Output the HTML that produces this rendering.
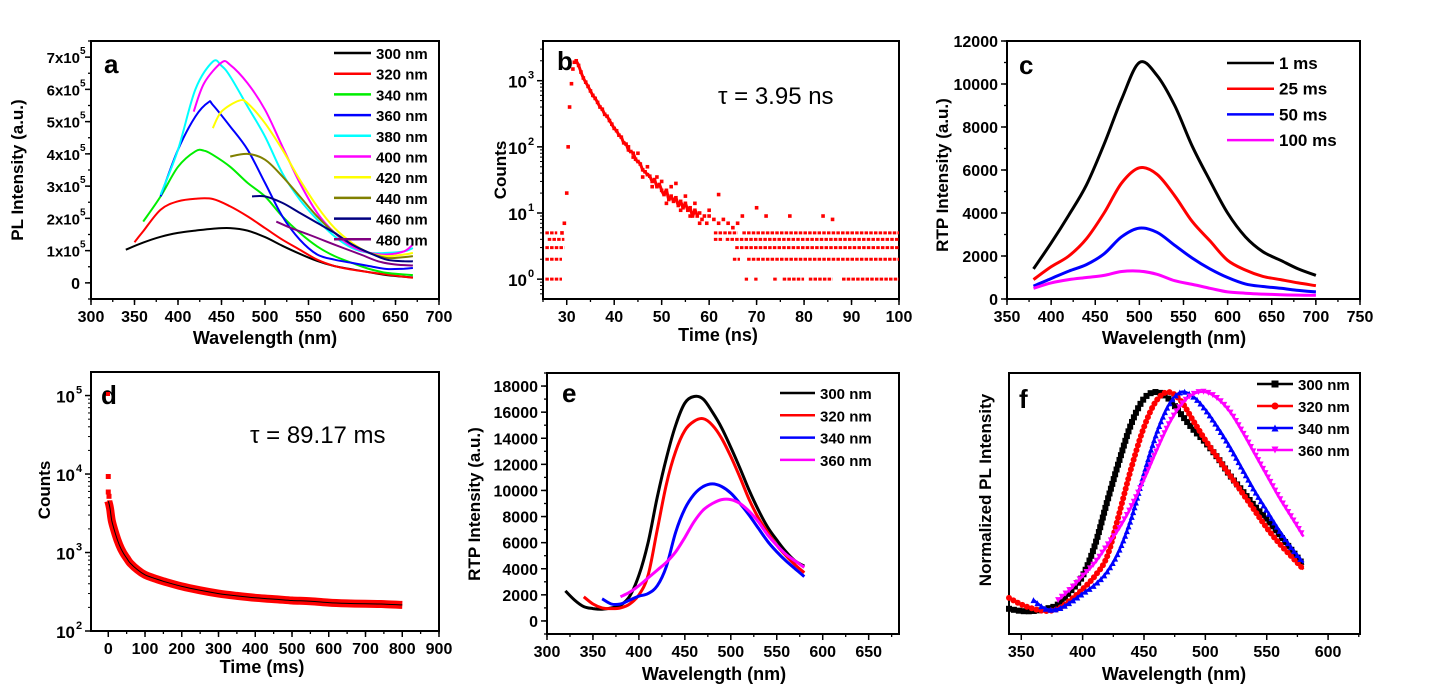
<!DOCTYPE html>
<html><head><meta charset="utf-8"><style>
html,body{margin:0;padding:0;background:#fff;}
svg{display:block;font-family:"Liberation Sans",Arial,sans-serif;}
</style></head><body>
<svg id="fig" width="1434" height="696" viewBox="0 0 1434 696" xmlns="http://www.w3.org/2000/svg"></svg>
<script>
// ---------- Panel a data (PL, x in nm, y in 1e5 a.u.) ----------
const aLabels = ["300 nm","320 nm","340 nm","360 nm","380 nm","400 nm","420 nm","440 nm","460 nm","480 nm"];
const aColors = ["#000000","#ff0000","#00ee00","#0000ff","#00ffff","#ff00ff","#ffff00","#808000","#000080","#800080"];
const aX0 = [340,350,360,380,380,418,440,460,485,513];
const aX300 = [340,360,380,400,420,440,460,480,500,520,540,560,580,600,620,640,660,670];
const aY300 = [1.03,1.25,1.43,1.55,1.62,1.68,1.70,1.62,1.42,1.15,0.9,0.68,0.52,0.42,0.33,0.24,0.19,0.17];
const aX320 = [350,360,380,400,420,440,460,480,500,520,540,560,580,600,620,640,660,670];
const aY320 = [1.26,1.6,2.27,2.53,2.61,2.6,2.37,2.06,1.7,1.34,1.03,0.72,0.52,0.41,0.33,0.26,0.19,0.16];
const aX340 = [360,380,400,420,430,440,460,480,500,520,540,560,580,600,620,640,660,670];
const aY340 = [1.9,2.68,3.6,4.08,4.1,3.97,3.6,3.1,2.68,2.06,1.55,1.13,0.83,0.62,0.43,0.31,0.26,0.24];
const aX360 = [380,400,420,435,440,460,480,500,520,540,560,580,600,620,640,660,670];
const aY360 = [2.68,4.13,5.16,5.6,5.52,4.85,4.13,3.1,2.06,1.34,0.88,0.72,0.62,0.52,0.43,0.44,0.46];
const aX380 = [380,400,420,440,450,460,480,500,520,540,560,580,600,620,640,660,670];
const aY380 = [2.73,4.13,6.0,6.86,6.73,6.4,5.47,4.54,3.4,2.58,1.96,1.44,1.08,0.93,0.93,0.98,1.08];
const aX400 = [418,430,450,460,480,500,520,540,560,580,600,620,640,660,670];
const aY400 = [5.31,6.19,6.83,6.76,6.19,5.37,4.23,3.1,2.17,1.55,1.13,0.93,0.88,0.98,1.19];
const aX420 = [440,450,470,480,500,520,540,560,580,600,620,640,660,670];
const aY420 = [4.8,5.31,5.65,5.57,4.95,4.13,3.2,2.37,1.7,1.24,0.93,0.83,0.88,0.93];
const aX440 = [460,480,500,520,540,560,580,600,620,640,660,670];
const aY440 = [3.92,4.0,3.82,3.3,2.68,2.06,1.55,1.19,0.93,0.77,0.8,0.83];
const aX460 = [485,500,520,540,560,580,600,620,640,660,670];
const aY460 = [2.68,2.68,2.48,2.17,1.86,1.55,1.19,0.93,0.72,0.67,0.67];
const aX480 = [513,530,550,570,590,610,630,650,670];
const aY480 = [1.9,1.7,1.5,1.29,1.08,0.88,0.67,0.57,0.54];
// ---------- Panel b data (TRPL ns) ----------
const bT = [29,29.5,30,30.3,30.6,31,31.3,31.6,32,32.5,33,33.5,34,34.5,35,35.5,36,36.5,37,37.5,38,38.5,39,39.5,40,40.5,41,41.5,42,42.5,43,43.5,44,44.5,45,45.5,46,46.5,47,47.5,48,48.5,49,49.5,50,50.5,51,51.5,52,52.5,53,53.5,54,54.5,55,55.5,56,56.5,57,57.5,58,58.5,59,59.5,60,61,62,63,64,65,66,67,70,72,77,84,86];
const bC = [5,7,20,100,400,900,1500,1900,2000,1700,1350,1100,950,820,700,600,540,470,400,370,310,290,250,220,190,175,150,140,115,110,90,85,80,65,60,55,45,42,38,36,30,32,25,27,22,19,22,16,18,15,17,13,15,12,14,11,12,9,11,9,10,8,9,7,9,8,7,8,7,6,7,9,12,9,9,9,8];
const bT2 = [43,44,45,46,47,48,49,50,51,52,53,54,55,56,57,58,60,62];
const bC2 = [100,70,80,35,50,25,35,30,14,25,28,11,18,9,14,7,11,19];
const bFloorLevels = [1,2,3,4,5];
const bFloorRanges = [
  [[25.5,29],[67.5,68.2],[69.5,70.2],[73.5,74.5],[75.5,80],[81,86],[88,100]],
  [[25.5,29],[65,66.5],[68,100]],
  [[25.5,29.5],[65.5,100]],
  [[26,29.5],[61,63],[63.5,100]],
  [[25.5,28],[61,66],[67,100]]
];
// ---------- Panel c data ----------
const cX = [380,400,420,440,460,480,500,520,540,560,580,600,620,640,660,680,700];
const cLabels = ["1 ms","25 ms","50 ms","100 ms"];
const cColors = ["#000000","#ff0000","#0000ff","#ff00ff"];
const c1 = [1400,2600,3900,5300,7200,9300,11000,10400,9000,7100,5500,4000,2900,2200,1800,1400,1100];
const c25 = [900,1500,2000,2800,4000,5400,6100,5800,4800,3600,2700,1800,1350,1050,900,750,620];
const c50 = [600,950,1300,1600,2100,2900,3300,3100,2500,1900,1400,1000,700,580,500,400,330];
const c100 = [500,750,900,1000,1100,1280,1300,1150,850,680,500,330,270,230,200,180,170];
// ---------- Panel d data (ms) ----------
const dT = [0,2,5,10,20,30,40,50,60,80,100,125,150,200,250,300,350,400,450,500,550,600,650,700,750,800];
const dC = [4500,4200,3600,2500,1700,1250,1000,850,730,600,520,470,430,370,330,300,280,265,255,245,240,230,225,222,220,215];
const dFirstT = [0,0,2,4];
const dFirstC = [9300,5900,5200,4300];
// ---------- Panel e data ----------
const eLabels = ["300 nm","320 nm","340 nm","360 nm"];
const eColors = ["#000000","#ff0000","#0000ff","#ff00ff"];
const eX300 = [320,330,340,350,360,370,380,390,400,410,420,430,440,450,460,470,480,490,500,510,520,530,540,550,560,570,580];
const eY300 = [2300,1600,1100,950,900,1000,1200,1900,3500,6000,9500,12500,15000,16700,17200,17000,16000,14800,13300,11700,10000,8500,7200,6200,5300,4600,4200];
const eX320 = [340,350,360,370,380,390,400,410,420,430,440,450,460,470,480,490,500,510,520,530,540,550,560,570,580];
const eY320 = [1850,1300,1000,950,1000,1300,2000,3500,7000,10500,13000,14600,15300,15500,15000,14000,12600,11000,9300,7900,6800,5800,5000,4300,3700];
const eX340 = [360,370,380,390,400,410,420,430,440,450,460,470,480,490,500,510,520,530,540,550,560,570,580];
const eY340 = [1700,1300,1300,1600,1900,2100,2700,4200,6800,8600,9700,10300,10500,10300,9800,9000,8100,7100,6100,5300,4600,4000,3400];
const eX360 = [380,390,400,410,420,430,440,450,460,470,480,490,500,510,520,530,540,550,560,570,580];
const eY360 = [1850,2200,2700,3300,3900,4500,5300,6400,7600,8500,9000,9300,9300,9000,8400,7600,6600,5800,5100,4600,4100];
// ---------- Panel f data (normalized) ----------
const fX300 = [340,350,360,370,380,390,400,410,420,430,440,450,460,470,480,490,500,510,520,530,540,550,560,570,580];
const fY300 = [0.01,0.0,0.0,0.01,0.03,0.09,0.16,0.3,0.5,0.69,0.86,0.97,1.0,0.97,0.9,0.83,0.77,0.7,0.62,0.55,0.48,0.42,0.35,0.28,0.21];
const fX320 = [340,350,360,370,380,390,400,410,420,430,440,450,460,470,480,490,500,510,520,530,540,550,560,570,580];
const fY320 = [0.06,0.03,0.01,0.0,0.01,0.05,0.1,0.16,0.25,0.45,0.66,0.84,0.96,1.0,0.96,0.87,0.78,0.7,0.62,0.54,0.46,0.38,0.31,0.25,0.19];
const fX340 = [360,370,380,390,400,410,420,430,440,450,460,470,480,490,500,510,520,530,540,550,560,570,580];
const fY340 = [0.05,0.01,0.01,0.04,0.08,0.12,0.18,0.28,0.43,0.63,0.81,0.94,1.0,0.98,0.92,0.84,0.75,0.65,0.55,0.46,0.37,0.29,0.22];
const fX360 = [380,390,400,410,420,430,440,450,460,470,480,490,500,510,520,530,540,550,560,570,580];
const fY360 = [0.05,0.1,0.16,0.22,0.3,0.38,0.48,0.6,0.73,0.85,0.94,0.99,1.0,0.97,0.91,0.82,0.72,0.62,0.52,0.43,0.34];

const NS = "http://www.w3.org/2000/svg";
const svg = document.getElementById('fig');
function mk(tag, parent){ const e = document.createElementNS(NS, tag); (parent||svg).appendChild(e); return e; }
function setA(e, o){ for (const k in o) e.setAttribute(k, o[k]); return e; }

function makePanel(l,t,r,b,xmin,xmax,ymin,ymax,ylog){
  const p = {l,t,r,b,xmin,xmax,ymin,ymax,ylog};
  p.sx = v => l + (v - xmin) / (xmax - xmin) * (r - l);
  p.sy = v => { const vv = ylog ? Math.log10(v) : v; return b - (vv - ymin) / (ymax - ymin) * (b - t); };
  return p;
}
function frame(p, name){
  const g = mk('g');
  
  
  const rc = setA(mk('rect', g), {x:p.l, y:p.t, width:p.r-p.l, height:p.b-p.t, fill:'none', stroke:'#000', 'stroke-width':2});
  
  
  return g;
}
function xTicks(p, g, majors, minorStep, fs){
  const ax = mk('g', g);
  
  
  for (let v = p.xmin; v <= p.xmax + 1e-9; v += 0) {
    const start = Math.ceil(p.xmin / minorStep) * minorStep;
    for (let m = start; m <= p.xmax + 1e-9; m += minorStep) {
      const x = p.sx(m);
      setA(mk('line', ax), {x1:x, x2:x, y1:p.b, y2:p.b+3, stroke:'#000', 'stroke-width':1.3});
    }
    break;
  }
  majors.forEach(v => {
    const x = p.sx(v);
    setA(mk('line', ax), {x1:x, x2:x, y1:p.b, y2:p.b+6, stroke:'#000', 'stroke-width':1.5});
    const tx = setA(mk('text', ax), {x:x, y:p.b+23, 'text-anchor':'middle', 'font-size':fs||16, 'font-weight':'bold'});
    tx.textContent = String(v);
    
    
  });
}
function yTicksLin(p, g, majors, minorStep, labels, fs){
  const ax = mk('g', g);
  
  
  const start = Math.ceil(p.ymin / minorStep) * minorStep;
  for (let m = start; m <= p.ymax + 1e-9; m += minorStep) {
    const y = p.sy(m);
    setA(mk('line', ax), {x1:p.l-3, x2:p.l, y1:y, y2:y, stroke:'#000', 'stroke-width':1.3});
  }
  majors.forEach((v,i) => {
    const y = p.sy(v);
    setA(mk('line', ax), {x1:p.l-6, x2:p.l, y1:y, y2:y, stroke:'#000', 'stroke-width':1.5});
    if (labels) {
      const tx = setA(mk('text', ax), {x:p.l-9, y:y+6, 'text-anchor':'end', 'font-size':fs||16, 'font-weight':'bold'});
      tx.textContent = labels[i];
      
      
    }
  });
}
function yTicksLog(p, g, decades){
  const ax = mk('g', g);
  
  
  for (let d = Math.floor(p.ymin); d <= Math.ceil(p.ymax); d++) {
    for (let k = 2; k <= 9; k++) {
      const lv = d + Math.log10(k);
      if (lv < p.ymin || lv > p.ymax) continue;
      const y = p.sy(Math.pow(10, lv));
      setA(mk('line', ax), {x1:p.l-3, x2:p.l, y1:y, y2:y, stroke:'#000', 'stroke-width':1});
    }
  }
  decades.forEach(d => {
    const y = p.sy(Math.pow(10, d));
    setA(mk('line', ax), {x1:p.l-6, x2:p.l, y1:y, y2:y, stroke:'#000', 'stroke-width':1.5});
    const tx = setA(mk('text', ax), {x:p.l-16, y:y+7, 'text-anchor':'end', 'font-size':17, 'font-weight':'bold'});
    tx.textContent = '10';
    
    
    const sp = setA(mk('text', ax), {x:p.l-15, y:y-2, 'font-size':11, 'font-weight':'bold'});
    sp.textContent = String(d);
  });
}
function textAt(x, y, s, o, name){
  const tx = setA(mk('text'), Object.assign({x:x, y:y, 'font-weight':'bold', 'font-size':17}, o||{}));
  tx.textContent = s;
  
  
  return tx;
}
function yTitle(x, y, s, name){
  const tx = textAt(0, 0, s, {'text-anchor':'middle', transform:`translate(${x},${y}) rotate(-90)`}, name);
  return tx;
}
function smoothPath(pts){
  if (pts.length < 2) return '';
  let d = `M${pts[0][0].toFixed(1)},${pts[0][1].toFixed(1)}`;
  for (let i = 0; i < pts.length-1; i++) {
    const p0 = pts[i-1] || pts[i], p1 = pts[i], p2 = pts[i+1], p3 = pts[i+2] || p2;
    const c1x = p1[0] + (p2[0]-p0[0])/6, c1y = p1[1] + (p2[1]-p0[1])/6;
    const c2x = p2[0] - (p3[0]-p1[0])/6, c2y = p2[1] - (p3[1]-p1[1])/6;
    d += ` C${c1x.toFixed(1)},${c1y.toFixed(1)} ${c2x.toFixed(1)},${c2y.toFixed(1)} ${p2[0].toFixed(1)},${p2[1].toFixed(1)}`;
  }
  return d;
}
function drawSeries(p, g, xs, ys, color, w, name){
  const pts = xs.map((x,i) => [p.sx(x), p.sy(ys[i])]);
  const path = setA(mk('path', g), {d:smoothPath(pts), fill:'none', stroke:color, 'stroke-width':w, 'stroke-linejoin':'round'});
  
  
  return path;
}
function legendEntry(g, x1, x2, y, color, label, fs, marker){
  const le = mk('g', g);
  
  
  setA(mk('line', le), {x1:x1, x2:x2, y1:y, y2:y, stroke:color, 'stroke-width':2.5});
  if (marker) drawMarker(le, (x1+x2)/2, y, marker, color, 7);
  const tx = setA(mk('text', le), {x:x2+5, y:y+6, 'font-size':fs, 'font-weight':'bold'});
  tx.textContent = label;
}
function drawMarker(parent, x, y, type, color, s){
  const h = s/2;
  if (type === 'sq') setA(mk('rect', parent), {x:x-h, y:y-h, width:s, height:s, fill:color});
  else if (type === 'ci') setA(mk('circle', parent), {cx:x, cy:y, r:h, fill:color});
  else if (type === 'tu') setA(mk('polygon', parent), {points:`${x},${y-h} ${x-h},${y+h} ${x+h},${y+h}`, fill:color});
  else setA(mk('polygon', parent), {points:`${x-h},${y-h} ${x+h},${y-h} ${x},${y+h}`, fill:color});
}

// ================= Panel a =================
const pa = makePanel(91,41,439,299,300,700,-0.5,7.5,false);
const ga = frame(pa, 'panel-a');
xTicks(pa, ga, [300,350,400,450,500,550,600,650,700], 25);
yTicksLin(pa, ga, [0,1,2,3,4,5,6,7], 0.5, null);
[0,1,2,3,4,5,6,7].forEach(v => {
  const y = pa.sy(v);
  if (v === 0) { textAt(80, y+6, '0', {'text-anchor':'end','font-size':16}, 'y-tick-label'); return; }
  const tx = textAt(80, y+6, `${v}x10`, {'text-anchor':'end','font-size':15}, 'y-tick-label');
  const sp = setA(mk('text'), {x:80, y:y-3, 'font-size':10, 'font-weight':'bold'}); sp.textContent = '5';
});
const aXs = [aX300,aX320,aX340,aX360,aX380,aX400,aX420,aX440,aX460,aX480];
const aYs = [aY300,aY320,aY340,aY360,aY380,aY400,aY420,aY440,aY460,aY480];
const aSer = mk('g', ga);
aXs.forEach((xs,i) => drawSeries(pa, aSer, xs, aYs[i], aColors[i], 2, 'series-' + aLabels[i].replace(' ','')));
const la = mk('g', ga);


aLabels.forEach((s,i) => legendEntry(la, 334, 371, 53 + i*20.7, aColors[i], s, 15));
textAt(104, 73, 'a', {'font-size':26}, 'panel-label-a');
yTitle(23, 170, 'PL Intensity (a.u.)', 'y-axis-title');
textAt(265, 344, 'Wavelength (nm)', {'text-anchor':'middle','font-size':18}, 'x-axis-title');

// ================= Panel b =================
const pb = makePanel(543,41,899,299,25,100,-0.3,3.6,true);
const gb = frame(pb, 'panel-b');
xTicks(pb, gb, [30,40,50,60,70,80,90,100], 5);
yTicksLog(pb, gb, [0,1,2,3]);
const bFloor = mk('g', gb);


bFloorLevels.forEach((lv,i) => {
  bFloorRanges[i].forEach(rg => {
    const y = pb.sy(lv);
    setA(mk('line', bFloor), {x1:pb.sx(rg[0]), x2:pb.sx(rg[1]), y1:y, y2:y, stroke:'#ff0000', 'stroke-width':3, 'stroke-dasharray':'3.5 1.2'});
  });
});
const bPts = mk('g', gb);


bT.forEach((t,i) => setA(mk('rect', bPts), {x:pb.sx(t)-1.8, y:pb.sy(bC[i])-1.8, width:3.6, height:3.6, fill:'#ff0000'}));
bT2.forEach((t,i) => setA(mk('rect', bPts), {x:pb.sx(t)-1.8, y:pb.sy(bC2[i])-1.8, width:3.6, height:3.6, fill:'#ff0000'}));
drawSeries(pb, gb, bT.slice(8,60), bC.slice(8,60), '#ff0000', 3, 'decay-band');
textAt(557, 70, 'b', {'font-size':26}, 'panel-label-b');
textAt(718, 104, 'τ = 3.95 ns', {'font-weight':'normal','font-size':24}, 'lifetime-annotation');
yTitle(506, 170, 'Counts', 'y-axis-title');
textAt(718, 341, 'Time (ns)', {'text-anchor':'middle','font-size':18}, 'x-axis-title');

// ================= Panel c =================
const pc = makePanel(1007,41,1360,299,350,750,0,12000,false);
const gc = frame(pc, 'panel-c');
xTicks(pc, gc, [350,400,450,500,550,600,650,700,750], 25);
yTicksLin(pc, gc, [0,2000,4000,6000,8000,10000,12000], 1000, ['0','2000','4000','6000','8000','10000','12000']);
const cYs = [c1,c25,c50,c100];
cYs.forEach((ys,i) => drawSeries(pc, gc, cX, ys, cColors[i], 3, 'series-' + cLabels[i].replace(' ','')));
const lc = mk('g', gc);


cLabels.forEach((s,i) => legendEntry(lc, 1227, 1274, 63 + i*25.7, cColors[i], s, 17));
textAt(1019, 74, 'c', {'font-size':26}, 'panel-label-c');
yTitle(948, 175, 'RTP Intensity (a.u.)', 'y-axis-title');
textAt(1174, 344, 'Wavelength (nm)', {'text-anchor':'middle','font-size':18}, 'x-axis-title');

// ================= Panel d =================
const pd = makePanel(91,372,439,631,-47,900,2,5.3,true);
const gd = frame(pd, 'panel-d');
xTicks(pd, gd, [0,100,200,300,400,500,600,700,800,900], 50);
yTicksLog(pd, gd, [2,3,4,5]);
drawSeries(pd, gd, dT, dC, '#ff0000', 8, 'decay-data');
dFirstT.forEach((t,i) => setA(mk('rect', gd), {x:pd.sx(t)-2.5, y:pd.sy(dFirstC[i])-2.5, width:5, height:5, fill:'#ff0000'}));
drawSeries(pd, gd, dT, dC, '#000000', 1, 'fit-line');
textAt(101, 404, 'd', {'font-size':26}, 'panel-label-d');
setA(mk('rect'), {x:106, y:392, width:4, height:4, fill:'#ff0000'});
textAt(250, 443, 'τ = 89.17 ms', {'font-weight':'normal','font-size':24}, 'lifetime-annotation');
yTitle(50, 490, 'Counts', 'y-axis-title');
textAt(262, 673, 'Time (ms)', {'text-anchor':'middle','font-size':18}, 'x-axis-title');

// ================= Panel e =================
const pe = makePanel(547,373,899,634,300,683,-1000,19000,false);
const ge = frame(pe, 'panel-e');
xTicks(pe, ge, [300,350,400,450,500,550,600,650], 25);
yTicksLin(pe, ge, [0,2000,4000,6000,8000,10000,12000,14000,16000,18000], 1000, ['0','2000','4000','6000','8000','10000','12000','14000','16000','18000']);
const eXs = [eX300,eX320,eX340,eX360];
const eYs = [eY300,eY320,eY340,eY360];
eXs.forEach((xs,i) => drawSeries(pe, ge, xs, eYs[i], eColors[i], 3, 'series-' + eLabels[i].replace(' ','')));
const le = mk('g', ge);


eLabels.forEach((s,i) => legendEntry(le, 780, 815, 393 + i*22.3, eColors[i], s, 15));
textAt(562, 402, 'e', {'font-size':26}, 'panel-label-e');
yTitle(480, 504, 'RTP Intensity (a.u.)', 'y-axis-title');
textAt(714, 680, 'Wavelength (nm)', {'text-anchor':'middle','font-size':18}, 'x-axis-title');

// ================= Panel f =================
const pf = makePanel(1009,373,1360,634,340,626,-0.105,1.087,false);
const gf = frame(pf, 'panel-f');
xTicks(pf, gf, [350,400,450,500,550,600], 25);
const fXs = [fX300,fX320,fX340,fX360];
const fYs = [fY300,fY320,fY340,fY360];
const fMk = ['sq','ci','tu','td'];
fXs.forEach((xs,i) => {
  const path = drawSeries(pf, gf, xs, fYs[i], eColors[i], 2.5, 'series-' + eLabels[i].replace(' ',''));
  const L = path.getTotalLength();
  const mg = mk('g', gf);
  
  
  for (let s = 0; s <= L; s += 5) { const pt = path.getPointAtLength(s); drawMarker(mg, pt.x, pt.y, fMk[i], eColors[i], 6); }
});
const lf = mk('g', gf);


eLabels.forEach((s,i) => legendEntry(lf, 1257, 1293, 384 + i*22, eColors[i], s, 15, fMk[i]));
textAt(1019, 408, 'f', {'font-size':26}, 'panel-label-f');
yTitle(991, 490, 'Normalized PL Intensity', 'y-axis-title');
textAt(1174, 680, 'Wavelength (nm)', {'text-anchor':'middle','font-size':18}, 'x-axis-title');
</script>
</body></html>
